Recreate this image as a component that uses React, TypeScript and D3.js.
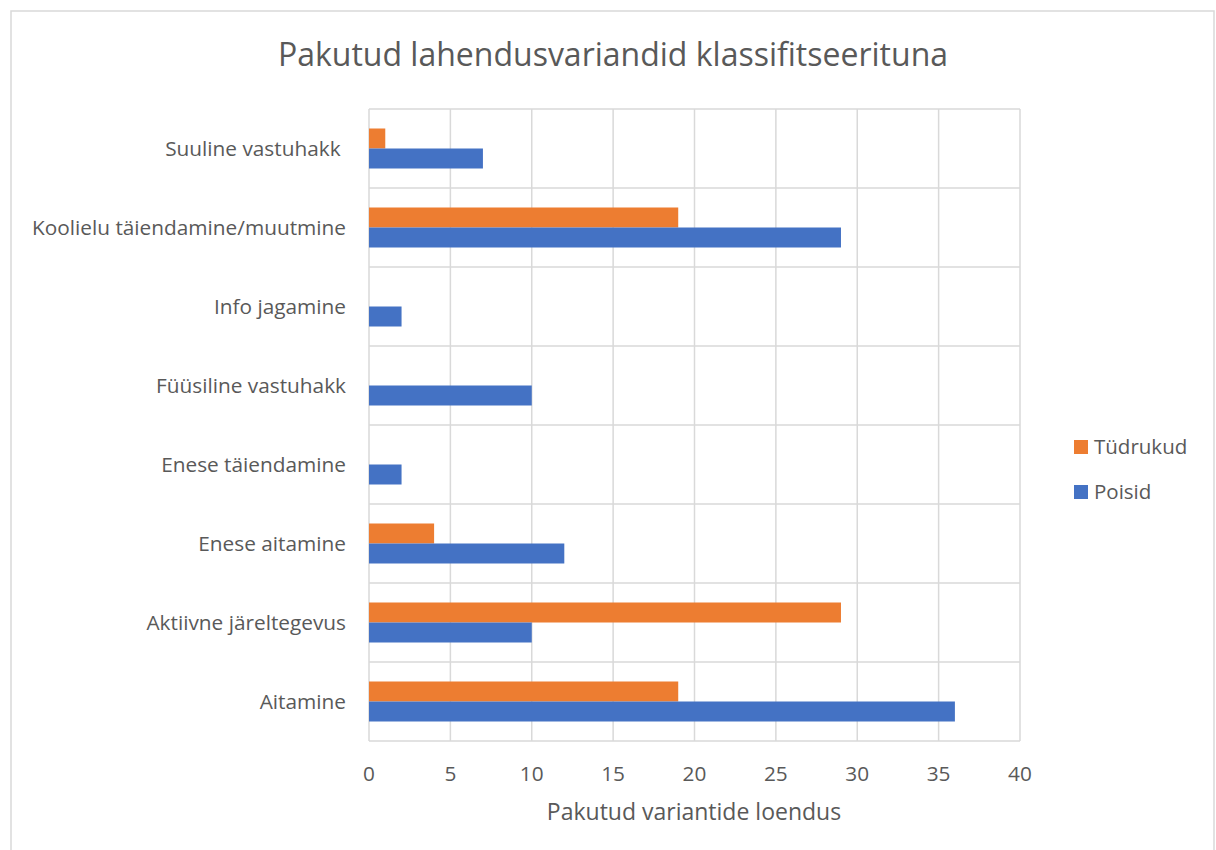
import React from "react";
import * as d3 from "d3";

const categories = [
  "Suuline vastuhakk ",
  "Koolielu täiendamine/muutmine",
  "Info jagamine",
  "Füüsiline vastuhakk",
  "Enese täiendamine",
  "Enese aitamine",
  "Aktiivne järeltegevus",
  "Aitamine",
];
const tudrukud = [1, 19, 0, 0, 0, 4, 29, 19];
const poisid = [7, 29, 2, 10, 2, 12, 10, 36];
const xTicks = [0, 5, 10, 15, 20, 25, 30, 35, 40];
const seriesNames = ["Tüdrukud", "Poisid"];
const colors = ["#ED7D31", "#4472C4"];

const W = 1216;
const H = 850;
const font = "'Open Sans', 'Noto Sans', sans-serif";
const textColor = "#595959";

export default function App() {
  const left = 369, right = 1020, top = 109, bottom = 741;
  const x = d3.scaleLinear().domain([0, 40]).range([left, right]);
  const y = d3.scaleBand().domain(categories).range([top, bottom]).paddingInner(0).paddingOuter(0);
  const bw = y.bandwidth();
  const barH = 20;
  const groupTop = (bw - 2 * barH) / 2;
  const series = [tudrukud, poisid];
  return (
    <svg width={W} height={H} style={{ position: "absolute", left: 0, top: 0, background: "#fff" }}>
      <rect x={11} y={11} width={1203} height={850} fill="#fff" stroke="#D9D9D9" strokeWidth={1.5} />
      <text x={613} y={66} textAnchor="middle" fontFamily={font} fontSize={32} fill={textColor}>
        Pakutud lahendusvariandid klassifitseerituna
      </text>
      {xTicks.map((t) => (
        <line key={"v" + t} x1={x(t)} x2={x(t)} y1={top} y2={bottom} stroke="#D9D9D9" strokeWidth={1.5} />
      ))}
      {categories.map((c) => (
        <line key={"h" + c} x1={left} x2={right} y1={y(c)} y2={y(c)} stroke="#D9D9D9" strokeWidth={1.5} />
      ))}
      <line x1={left} x2={right} y1={bottom} y2={bottom} stroke="#D9D9D9" strokeWidth={1.5} />
      {categories.map((c, i) =>
        series.map((s, j) => (
          <rect
            key={c + j}
            x={x(0)}
            y={(y(c) as number) + groupTop + j * barH}
            width={x(s[i]) - x(0)}
            height={barH}
            fill={colors[j]}
          />
        ))
      )}
      {categories.map((c) => (
        <text key={"l" + c} x={346} y={(y(c) as number) + bw / 2} dy="0.35em" textAnchor="end" fontFamily={font} fontSize={20.8} fill={textColor} style={{ whiteSpace: "pre" }}>
          {c}
        </text>
      ))}
      {xTicks.map((t) => (
        <text key={"t" + t} x={x(t)} y={774} dy="0.35em" textAnchor="middle" fontFamily={font} fontSize={20.8} fill={textColor}>
          {t}
        </text>
      ))}
      <text x={694} y={812} dy="0.35em" textAnchor="middle" fontFamily={font} fontSize={23} fill={textColor}>
        Pakutud variantide loendus
      </text>
      {seriesNames.map((n, i) => (
        <g key={n}>
          <rect x={1074} y={440 + i * 45} width={14} height={14} fill={colors[i]} />
          <text x={1094} y={447 + i * 45} dy="0.35em" fontFamily={font} fontSize={20.5} fill={textColor}>
            {n}
          </text>
        </g>
      ))}
    </svg>
  );
}
